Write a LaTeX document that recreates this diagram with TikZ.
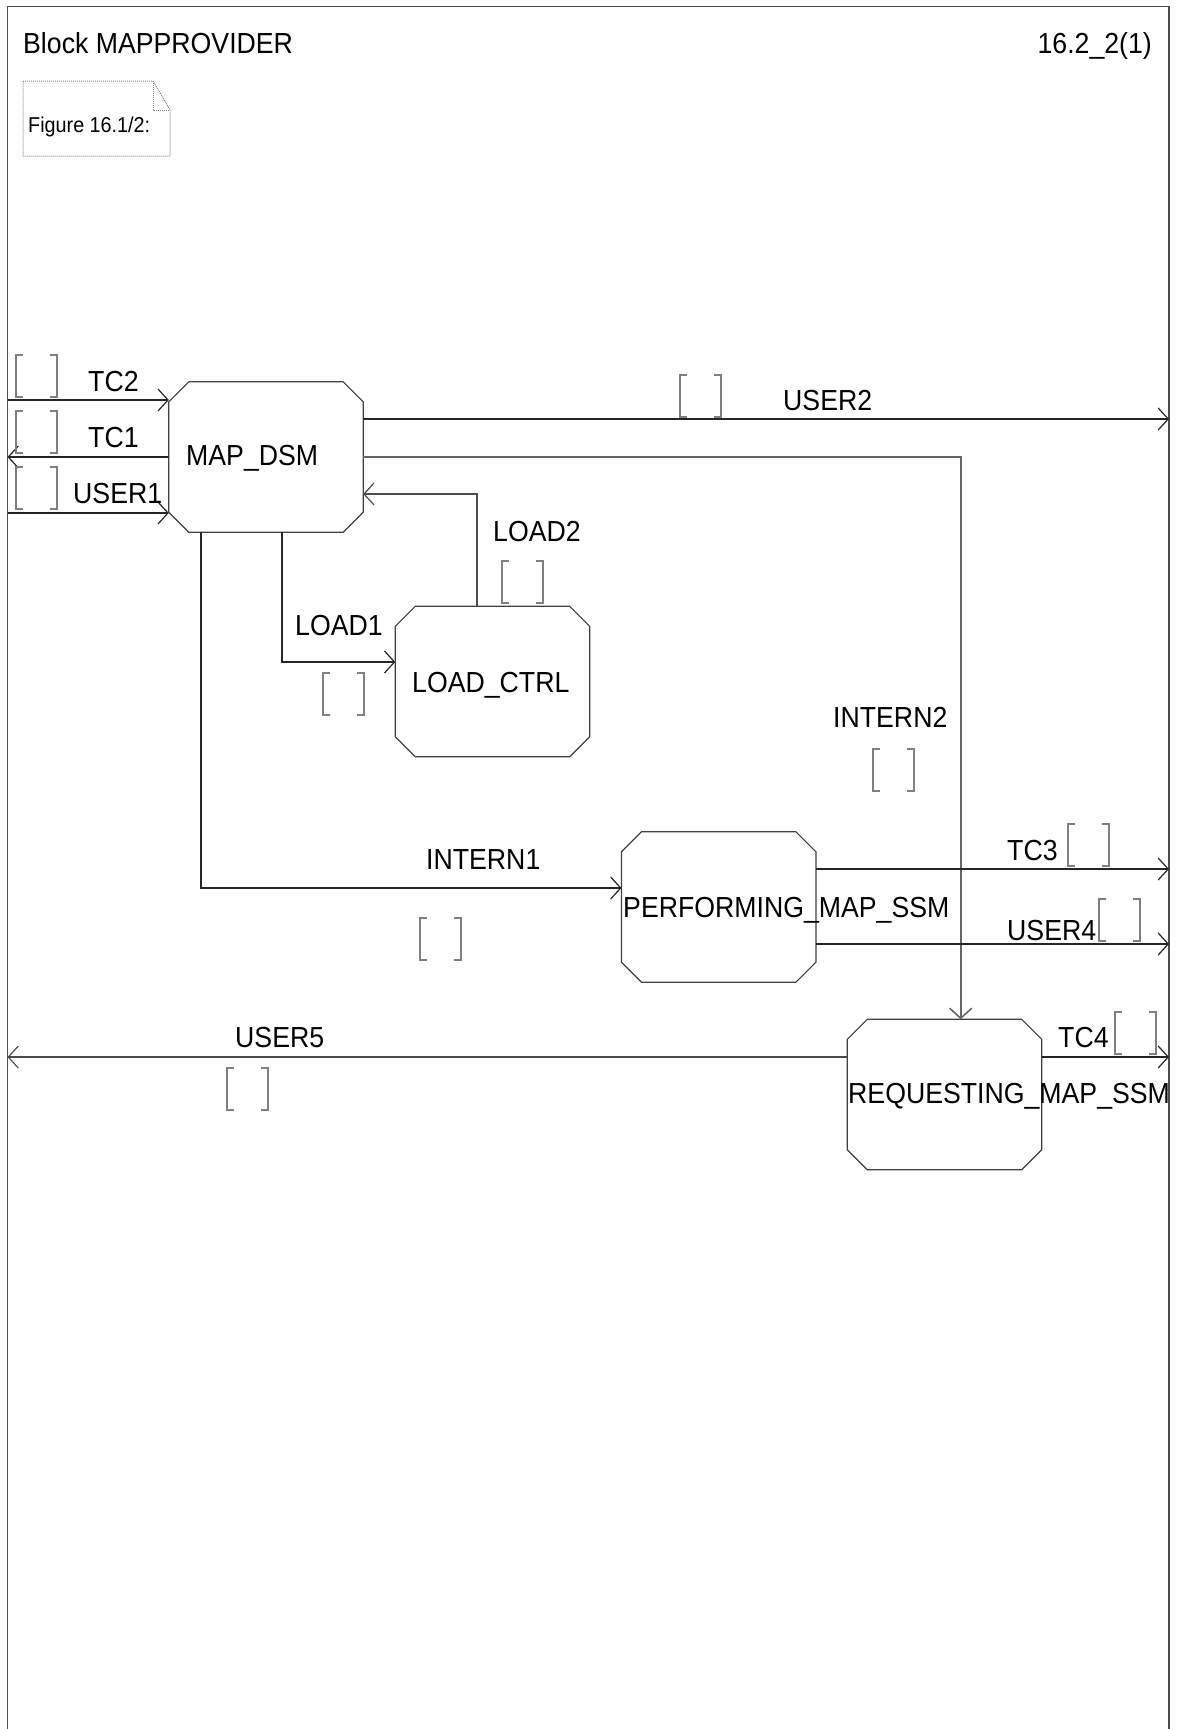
\documentclass[tikz,border=0pt]{standalone}
\usepackage{fontspec}
\setmainfont{Liberation Sans}[FakeStretch=0.92]
\usetikzlibrary{arrows.meta,calc}
\tikzset{
  sig/.style={line width=1.2pt, draw=black!85},
  sigarr/.style={sig, -{Straight Barb[length=10pt,width=22pt]}},
  boxline/.style={line width=1.2pt, draw=black!75},
  procbox/.style={draw=none, minimum width=194pt, minimum height=150pt, inner sep=0pt},
  lbl/.style={anchor=base west, inner sep=0pt, font=\fontsize{29}{34}\selectfont},
  brkline/.style={line width=1.2pt, draw=black!50},
  sigbrk/.pic={\draw[brkline] (7,0) -- (0,0) -- (0,42) -- (7,42);
               \draw[brkline] (34,0) -- (41,0) -- (41,42) -- (34,42);},
}
\newcommand\octabox[1]{\draw[boxline] ($(#1.north west)+(20,0)$) -- ($(#1.north east)+(-20,0)$) -- ($(#1.north east)+(0,20)$) -- ($(#1.south east)+(0,-20)$) -- ($(#1.south east)+(-20,0)$) -- ($(#1.south west)+(20,0)$) -- ($(#1.south west)+(0,-20)$) -- ($(#1.north west)+(0,20)$) -- cycle;}
\begin{document}
\begin{tikzpicture}[x=1pt,y=-1pt]
\useasboundingbox (0,0) rectangle (1180,1729);
% frame
\draw[line width=1.2pt, draw=black!70] (7.5,1729) -- (7.5,6.5) -- (1169,6.5) -- (1169,1729);
\node[lbl] (title) at (23,53) {Block MAPPROVIDER};
\node[lbl, anchor=base east] (pageno) at (1152,53) {16.2\_2(1)};
% note
\draw[densely dotted, line width=1pt, gray] (23,81) -- (153,81) -- (170,110) -- (170,156) -- (23,156) -- cycle;
\draw[densely dotted, line width=1pt, gray] (153,81) -- (153,110) -- (170,110);
\node[lbl, font=\fontsize{21.5}{25}\selectfont] (note) at (28,132) {Figure 16.1/2:};
% processes
\node[procbox] (mapdsm) at (266,457) {};
\node[procbox] (loadctrl) at (492.5,681.5) {};
\node[procbox] (perf) at (718.7,907) {};
\node[procbox] (req) at (944.5,1094.5) {};
\octabox{mapdsm}
\octabox{loadctrl}
\octabox{perf}
\octabox{req}
\node[lbl] (mapdsmt) at (186,465) {MAP\_DSM};
\node[lbl] (loadctrlt) at (412,692) {LOAD\_CTRL};
\node[lbl] (perft) at (623,917) {PERFORMING\_MAP\_SSM};
\node[lbl] (reqt) at (848,1103) {REQUESTING\_MAP\_SSM};
% frame coordinates
\coordinate (ftc2) at (7.5,400);
\coordinate (ftc1) at (7.5,457);
\coordinate (fuser1) at (7.5,513);
\coordinate (fuser2) at (1169,419);
\coordinate (ftc3) at (1169,869);
\coordinate (fuser4) at (1169,944);
\coordinate (ftc4) at (1169,1057);
\coordinate (fuser5) at (7.5,1057);
\coordinate (i2) at (960.7,457);
\coordinate (l2) at (477,494);
\coordinate (l1) at (282,662);
\coordinate (i1) at (201,888);
% connectors
\draw[sigarr] (ftc2) -- (ftc2 -| mapdsm.west);
\draw[sigarr] (ftc1 -| mapdsm.west) -- (ftc1);
\draw[sigarr] (fuser1) -- (fuser1 -| mapdsm.west);
\draw[sigarr] (fuser2 -| mapdsm.east) -- (fuser2);
\draw[sigarr, draw=black!60, line width=1.6pt] (i2 -| mapdsm.east) -- (i2) -- (i2 |- req.north);
\draw[sigarr, draw=black!70] (l2 |- loadctrl.north) -- (l2) -- (l2 -| mapdsm.east);
\draw[sigarr] (l1 |- mapdsm.south) -- (l1) -- (l1 -| loadctrl.west);
\draw[sigarr] (i1 |- mapdsm.south) -- (i1) -- (i1 -| perf.west);
\draw[sigarr] (ftc3 -| perf.east) -- (ftc3);
\draw[sigarr] (fuser4 -| perf.east) -- (fuser4);
\draw[sigarr] (ftc4 -| req.east) -- (ftc4);
\draw[sigarr, draw=black!70] (fuser5 -| req.west) -- (fuser5);
% signal labels
\node[lbl] (ltc2) at (88,391) {TC2};
\node[lbl] (ltc1) at (88,447) {TC1};
\node[lbl] (luser1) at (73,503) {USER1};
\node[lbl] (luser2) at (783,410) {USER2};
\node[lbl] (lintern2) at (833,727) {INTERN2};
\node[lbl] (lload2) at (493,541) {LOAD2};
\node[lbl] (lload1) at (295,635) {LOAD1};
\node[lbl] (lintern1) at (426,869) {INTERN1};
\node[lbl] (ltc3) at (1007,860) {TC3};
\node[lbl] (luser4) at (1007,940) {USER4};
\node[lbl] (ltc4) at (1058,1047) {TC4};
\node[lbl] (luser5) at (235,1047) {USER5};
% signal list brackets
\pic (btc2) at (16,355) {sigbrk};
\pic (btc1) at (16,411) {sigbrk};
\pic (buser1) at (16,467) {sigbrk};
\pic (buser2) at (680,375) {sigbrk};
\pic (bintern2) at (873,749) {sigbrk};
\pic (bload2) at (502,561) {sigbrk};
\pic (bload1) at (323,673) {sigbrk};
\pic (bintern1) at (420,918) {sigbrk};
\pic (btc3) at (1068,824) {sigbrk};
\pic (buser4) at (1099,899) {sigbrk};
\pic (btc4) at (1115,1012) {sigbrk};
\pic (buser5) at (227,1068) {sigbrk};
\end{tikzpicture}
\end{document}
